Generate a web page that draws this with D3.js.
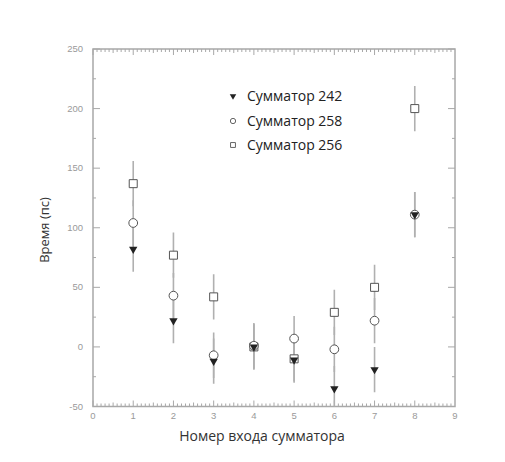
<!DOCTYPE html>
<html><head><meta charset="utf-8">
<script src="https://cdn.jsdelivr.net/npm/d3@7"></script>
<style>body{margin:0;background:#fff;} svg{display:block;}</style>
</head><body>
<script>
const inputs = [1, 2, 3, 4, 5, 6, 7, 8];
const s242 = [82, 22, -12, 0, -11, -35, -19, 111];
const s258 = [104, 43, -7, 1, 7, -2, 22, 111];
const s256 = [137, 77, 42, 0, -10, 29, 50, 200];
const err242 = [19, 19, 19, 19, 19, 19, 19, 19];
const err258 = [19, 19, 19, 19, 19, 19, 19, 19];
const err256 = [19, 19, 19, 19, 19, 19, 19, 19];
const seriesNames = ["Сумматор 242", "Сумматор 258", "Сумматор 256"];
const xTicks = [0, 1, 2, 3, 4, 5, 6, 7, 8, 9];
const yTicks = [-50, 0, 50, 100, 150, 200, 250];

const W = 505, H = 462;
const L = 93, R = 455, T = 49, B = 406.5;
const svg = d3.select("body").append("svg").attr("width", W).attr("height", H);
const x = d3.scaleLinear().domain([0, 9]).range([L, R]);
const y = d3.scaleLinear().domain([-50, 250]).range([B, T]);

svg.append("defs").append("clipPath").attr("id", "clip")
  .append("rect").attr("x", L).attr("y", T).attr("width", R - L).attr("height", B - T);

const axisCol = "#a8a8a8";
svg.append("rect").attr("x", L).attr("y", T).attr("width", R - L).attr("height", B - T)
  .attr("fill", "none").attr("stroke", axisCol).attr("stroke-width", 1.5);

const g = svg.append("g").attr("stroke", axisCol).attr("stroke-width", 1);
const minorX = d3.range(0, 90).map(i => i / 10);
minorX.forEach(v => {
  const isMaj = Math.abs(v - Math.round(v)) < 1e-6;
  const isHalf = Math.abs(v * 2 - Math.round(v * 2)) < 1e-6;
  const len = isMaj ? 6 : (isHalf ? 4 : 3);
  g.append("line").attr("x1", x(v)).attr("x2", x(v)).attr("y1", B).attr("y2", B - len);
  g.append("line").attr("x1", x(v)).attr("x2", x(v)).attr("y1", T).attr("y2", T + len);
});
d3.range(-50, 251, 25).forEach(v => {
  const len = v % 50 === 0 ? 7 : 3;
  g.append("line").attr("x1", L).attr("x2", L + len).attr("y1", y(v)).attr("y2", y(v));
  g.append("line").attr("x1", R).attr("x2", R - len).attr("y1", y(v)).attr("y2", y(v));
});

const tickFont = "Liberation Sans, Arial, sans-serif";
svg.append("g").selectAll("text").data(xTicks).join("text")
  .attr("x", d => x(d)).attr("y", B + 12).attr("text-anchor", "middle")
  .attr("font-family", tickFont).attr("font-size", 9.5).attr("fill", "#9a9a9a").text(d => d);
svg.append("g").selectAll("text").data(yTicks).join("text")
  .attr("x", 83).attr("y", d => y(d) + 3).attr("text-anchor", "end")
  .attr("font-family", tickFont).attr("font-size", 9.5).attr("fill", "#9a9a9a").text(d => d);

const labFont = "Open Sans, sans-serif";
svg.append("text").attr("x", 262).attr("y", 441).attr("text-anchor", "middle")
  .attr("font-family", labFont).attr("font-size", 14).attr("fill", "#333").text("Номер входа сумматора");
svg.append("text").attr("transform", "translate(49,230) rotate(-90)").attr("text-anchor", "middle")
  .attr("font-family", labFont).attr("font-size", 13).attr("fill", "#333").text("Время (пс)");

const plot = svg.append("g").attr("clip-path", "url(#clip)");
const sets = [
  {vals: s242, err: err242},
  {vals: s258, err: err258},
  {vals: s256, err: err256}
];
sets.forEach(s => {
  plot.append("g").selectAll("line").data(inputs).join("line")
    .attr("x1", d => x(d)).attr("x2", d => x(d))
    .attr("y1", (d, i) => y(s.vals[i] + s.err[i])).attr("y2", (d, i) => y(s.vals[i] - s.err[i]))
    .attr("stroke", "#b0b0b0").attr("stroke-width", 1.6);
});
const sq = d3.symbol().type(d3.symbolSquare).size(64);
const ci = d3.symbol().type(d3.symbolCircle).size(60);
const tri = d3.symbol().type(d3.symbolTriangle).size(30);
plot.append("g").selectAll("path").data(inputs).join("path")
  .attr("transform", (d, i) => `translate(${x(d)},${y(s256[i])})`).attr("d", sq())
  .attr("fill", "#fff").attr("stroke", "#555").attr("stroke-width", 1);
plot.append("g").selectAll("path").data(inputs).join("path")
  .attr("transform", (d, i) => `translate(${x(d)},${y(s258[i])})`).attr("d", ci())
  .attr("fill", "#fff").attr("stroke", "#555").attr("stroke-width", 1);
plot.append("g").selectAll("path").data(inputs).join("path")
  .attr("transform", (d, i) => `translate(${x(d)},${y(s242[i])}) rotate(180)`).attr("d", tri())
  .attr("fill", "#222").attr("stroke", "none");

const legY = [96, 121, 145];
const leg = svg.append("g");
leg.append("path").attr("transform", `translate(233,${legY[0]}) rotate(180)`)
  .attr("d", d3.symbol().type(d3.symbolTriangle).size(18)()).attr("fill", "#222");
leg.append("path").attr("transform", `translate(233,${legY[1]})`)
  .attr("d", d3.symbol().type(d3.symbolCircle).size(22)()).attr("fill", "#fff").attr("stroke", "#666");
leg.append("path").attr("transform", `translate(233,${legY[2]})`)
  .attr("d", d3.symbol().type(d3.symbolSquare).size(24)()).attr("fill", "#fff").attr("stroke", "#666");
leg.selectAll("text").data(seriesNames).join("text")
  .attr("x", 247).attr("y", (d, i) => legY[i] + 5)
  .attr("font-family", labFont).attr("font-size", 14).attr("fill", "#222").text(d => d);
</script>
</body></html>
